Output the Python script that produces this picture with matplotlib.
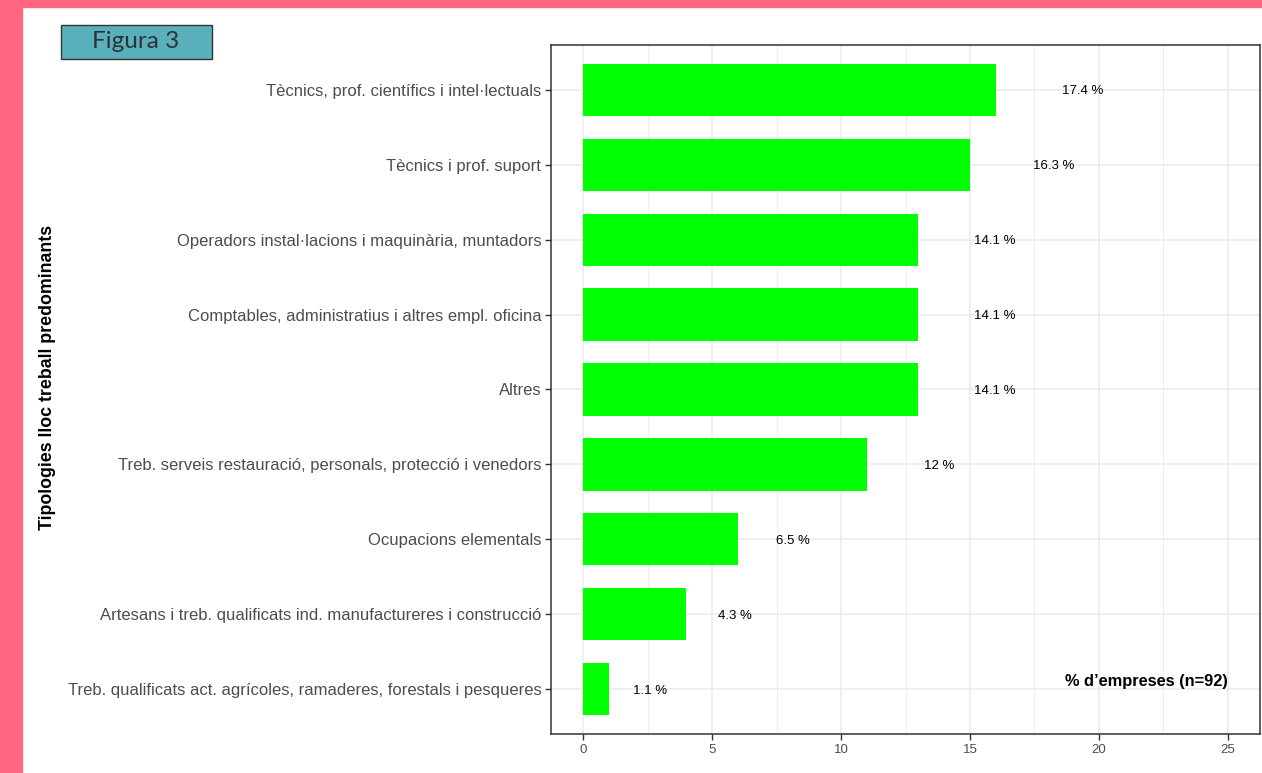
import matplotlib
matplotlib.use("Agg")
import matplotlib.pyplot as plt
from matplotlib.patches import Rectangle

categories = [
    "Tècnics, prof. científics i intel·lectuals",
    "Tècnics i prof. suport",
    "Operadors instal·lacions i maquinària, muntadors",
    "Comptables, administratius i altres empl. oficina",
    "Altres",
    "Treb. serveis restauració, personals, protecció i venedors",
    "Ocupacions elementals",
    "Artesans i treb. qualificats ind. manufactureres i construcció",
    "Treb. qualificats act. agrícoles, ramaderes, forestals i pesqueres",
]
counts = [16, 15, 13, 13, 13, 11, 6, 4, 1]
percents = [17.4, 16.3, 14.1, 14.1, 14.1, 12, 6.5, 4.3, 1.1]
pct_labels = ["17.4 %", "16.3 %", "14.1 %", "14.1 %", "14.1 %", "12 %", "6.5 %", "4.3 %", "1.1 %"]
xticks = [0, 5, 10, 15, 20, 25]

plt.rcParams['font.family'] = ['Liberation Sans', 'DejaVu Sans']

W, H = 1262, 773
fig = plt.figure(figsize=(W / 100, H / 100), dpi=100)

# decorative pink frame
fig.patches.append(Rectangle((0, 0), 22 / W, 1, transform=fig.transFigure, color="#FF6680", zorder=0))
fig.patches.append(Rectangle((0, 1 - 7 / H), 1, 7 / H, transform=fig.transFigure, color="#FF6680", zorder=0))

ax = fig.add_axes([551 / W, 1 - 734 / H, (1260 - 551) / W, (734 - 45) / H])

n = len(categories)
ypos = list(range(n, 0, -1))
ax.barh(ypos, counts, height=0.7, color="#00FF00", zorder=3)
for y, p, lab in zip(ypos, percents, pct_labels):
    ax.text(p * 1.03 + 1.45, y, lab, ha="center", va="center_baseline", fontsize=9.5,
            color="black", zorder=4)

ax.set_xlim(-1.25, 26.25)
ax.set_ylim(0.4, n + 0.6)
ax.set_xticks(xticks)
ax.set_xticks([2.5, 7.5, 12.5, 17.5, 22.5], minor=True)
ax.set_yticks(ypos)
ax.set_yticklabels(categories)
ax.grid(True, which="major", color="#EBEBEB", linewidth=1.1, zorder=0)
ax.grid(True, which="minor", axis="x", color="#EBEBEB", linewidth=0.6, zorder=0)
ax.set_axisbelow(True)
ax.tick_params(axis="both", which="major", direction="out", length=4, width=1, color="#333333",
               labelcolor="#4D4D4D")
ax.tick_params(axis="y", labelsize=12, pad=3)
ax.tick_params(axis="x", labelsize=9.5, pad=3)
ax.tick_params(which="minor", length=0)
for s in ax.spines.values():
    s.set_color("#333333")
    s.set_linewidth(1.1)

ax.text(21.85, 1.1, "% d\u2019empreses (n=92)", ha="center", va="center", fontsize=11.8,
        fontweight="bold", color="black", zorder=4)

fig.text(47 / W, 1 - 377 / H, "Tipologies lloc treball predominants", rotation=90,
         ha="center", va="center", fontsize=12.8, fontweight="bold", color="black")

# Figure label box
fig.patches.append(Rectangle((61 / W, 1 - 59 / H), (212 - 61) / W, (59 - 25) / H,
                             transform=fig.transFigure, facecolor="#5AAFBC",
                             edgecolor="#333333", linewidth=1.0, zorder=1))
fig.text(136 / W, 1 - 42 / H, "Figura 3", ha="center", va="center", fontsize=17.5,
         color="#2B3438", family=["Lato", "DejaVu Sans"], zorder=2)

fig.savefig("out.png", dpi=100)
